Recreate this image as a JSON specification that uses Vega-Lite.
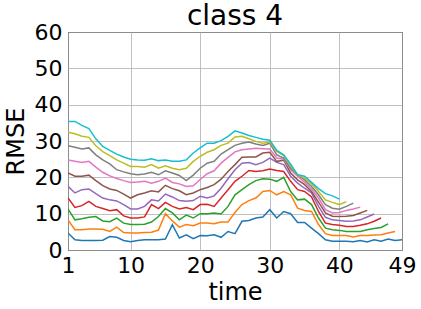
{
  "$schema": "https://vega.github.io/schema/vega-lite/v6.json",
  "width": 334,
  "height": 218,
  "autosize": "none",
  "padding": {"left": 68, "top": 32, "right": 19, "bottom": 59},
  "title": {"text": "class 4", "fontSize": 28, "font": "DejaVu Sans", "fontWeight": "normal", "color": "black", "anchor": "middle", "frame": "group", "baseline": "alphabetic", "offset": -32},
  "config": {
    "view": {"stroke": "black", "strokeWidth": 1},
    "axis": {"labelFont": "DejaVu Sans", "titleFont": "DejaVu Sans", "labelFontSize": 22, "titleFontSize": 24, "labelColor": "black", "titleColor": "black", "titleFontWeight": "normal", "domain": false, "ticks": false, "gridColor": "#b0b0b0", "gridWidth": 0.8, "gridOpacity": 1}
  },
  "datasets": {
    "d": [
{"s":"s0","t":1,"v":4.7},{"s":"s0","t":2,"v":2.8},{"s":"s0","t":3,"v":2.6},{"s":"s0","t":4,"v":2.6},{"s":"s0","t":5,"v":2.6},{"s":"s0","t":6,"v":2.7},{"s":"s0","t":7,"v":3.7},{"s":"s0","t":8,"v":3.5},{"s":"s0","t":9,"v":2.6},{"s":"s0","t":10,"v":2.3},
{"s":"s0","t":11,"v":2.6},{"s":"s0","t":12,"v":2.8},{"s":"s0","t":13,"v":2.8},{"s":"s0","t":14,"v":2.8},{"s":"s0","t":15,"v":3.0},{"s":"s0","t":16,"v":7.0},{"s":"s0","t":17,"v":3.3},{"s":"s0","t":18,"v":4.2},{"s":"s0","t":19,"v":3.1},{"s":"s0","t":20,"v":4.0},
{"s":"s0","t":21,"v":3.9},{"s":"s0","t":22,"v":4.2},{"s":"s0","t":23,"v":3.5},{"s":"s0","t":24,"v":5.1},{"s":"s0","t":25,"v":4.5},{"s":"s0","t":26,"v":7.9},{"s":"s0","t":27,"v":8.1},{"s":"s0","t":28,"v":8.8},{"s":"s0","t":29,"v":9.1},{"s":"s0","t":30,"v":11.1},
{"s":"s0","t":31,"v":8.8},{"s":"s0","t":32,"v":10.6},{"s":"s0","t":33,"v":10.0},{"s":"s0","t":34,"v":7.6},{"s":"s0","t":35,"v":7.6},{"s":"s0","t":36,"v":6.0},{"s":"s0","t":37,"v":4.5},{"s":"s0","t":38,"v":2.8},{"s":"s0","t":39,"v":2.4},{"s":"s0","t":40,"v":2.4},
{"s":"s0","t":41,"v":2.4},{"s":"s0","t":42,"v":2.3},{"s":"s0","t":43,"v":2.6},{"s":"s0","t":44,"v":2.2},{"s":"s0","t":45,"v":2.8},{"s":"s0","t":46,"v":2.4},{"s":"s0","t":47,"v":3.0},{"s":"s0","t":48,"v":2.6},{"s":"s0","t":49,"v":2.8},

{"s":"s1","t":1,"v":8.3},{"s":"s1","t":2,"v":5.6},{"s":"s1","t":3,"v":5.6},{"s":"s1","t":4,"v":5.8},{"s":"s1","t":5,"v":5.8},{"s":"s1","t":6,"v":5.7},{"s":"s1","t":7,"v":5.1},{"s":"s1","t":8,"v":6.3},{"s":"s1","t":9,"v":4.8},{"s":"s1","t":10,"v":4.7},
{"s":"s1","t":11,"v":4.7},{"s":"s1","t":12,"v":4.8},{"s":"s1","t":13,"v":4.9},{"s":"s1","t":14,"v":5.5},{"s":"s1","t":15,"v":10.0},{"s":"s1","t":16,"v":8.0},{"s":"s1","t":17,"v":6.3},{"s":"s1","t":18,"v":7.0},{"s":"s1","t":19,"v":6.7},{"s":"s1","t":20,"v":7.4},
{"s":"s1","t":21,"v":7.4},{"s":"s1","t":22,"v":7.2},{"s":"s1","t":23,"v":7.7},{"s":"s1","t":24,"v":7.7},{"s":"s1","t":25,"v":10.3},{"s":"s1","t":26,"v":12.5},{"s":"s1","t":27,"v":13.6},{"s":"s1","t":28,"v":14.3},{"s":"s1","t":29,"v":16.1},{"s":"s1","t":30,"v":16.4},
{"s":"s1","t":31,"v":15.2},{"s":"s1","t":32,"v":16.1},{"s":"s1","t":33,"v":15.2},{"s":"s1","t":34,"v":11.5},{"s":"s1","t":35,"v":10.9},{"s":"s1","t":36,"v":10.6},{"s":"s1","t":37,"v":7.0},{"s":"s1","t":38,"v":4.5},{"s":"s1","t":39,"v":4.0},{"s":"s1","t":40,"v":4.0},
{"s":"s1","t":41,"v":4.0},{"s":"s1","t":42,"v":3.6},{"s":"s1","t":43,"v":4.0},{"s":"s1","t":44,"v":4.0},{"s":"s1","t":45,"v":4.1},{"s":"s1","t":46,"v":4.2},{"s":"s1","t":47,"v":4.7},{"s":"s1","t":48,"v":5.1},

{"s":"s2","t":1,"v":11.3},{"s":"s2","t":2,"v":8.3},{"s":"s2","t":3,"v":8.6},{"s":"s2","t":4,"v":9.0},{"s":"s2","t":5,"v":9.2},{"s":"s2","t":6,"v":8.0},{"s":"s2","t":7,"v":7.8},{"s":"s2","t":8,"v":8.8},{"s":"s2","t":9,"v":7.4},{"s":"s2","t":10,"v":7.0},
{"s":"s2","t":11,"v":7.0},{"s":"s2","t":12,"v":7.1},{"s":"s2","t":13,"v":7.7},{"s":"s2","t":14,"v":9.2},{"s":"s2","t":15,"v":11.4},{"s":"s2","t":16,"v":10.2},{"s":"s2","t":17,"v":8.3},{"s":"s2","t":18,"v":9.6},{"s":"s2","t":19,"v":8.8},{"s":"s2","t":20,"v":10.0},
{"s":"s2","t":21,"v":10.0},{"s":"s2","t":22,"v":10.2},{"s":"s2","t":23,"v":9.9},{"s":"s2","t":24,"v":12.0},{"s":"s2","t":25,"v":15.2},{"s":"s2","t":26,"v":16.6},{"s":"s2","t":27,"v":18.0},{"s":"s2","t":28,"v":19.1},{"s":"s2","t":29,"v":19.6},{"s":"s2","t":30,"v":19.5},
{"s":"s2","t":31,"v":18.9},{"s":"s2","t":32,"v":20.0},{"s":"s2","t":33,"v":16.1},{"s":"s2","t":34,"v":13.8},{"s":"s2","t":35,"v":14.0},{"s":"s2","t":36,"v":12.5},{"s":"s2","t":37,"v":8.8},{"s":"s2","t":38,"v":6.0},{"s":"s2","t":39,"v":5.6},{"s":"s2","t":40,"v":5.4},
{"s":"s2","t":41,"v":5.1},{"s":"s2","t":42,"v":5.1},{"s":"s2","t":43,"v":5.1},{"s":"s2","t":44,"v":5.6},{"s":"s2","t":45,"v":5.9},{"s":"s2","t":46,"v":6.2},{"s":"s2","t":47,"v":7.2},

{"s":"s3","t":1,"v":14.3},{"s":"s3","t":2,"v":11.7},{"s":"s3","t":3,"v":12.2},{"s":"s3","t":4,"v":13.4},{"s":"s3","t":5,"v":12.0},{"s":"s3","t":6,"v":11.4},{"s":"s3","t":7,"v":10.8},{"s":"s3","t":8,"v":11.1},{"s":"s3","t":9,"v":9.4},{"s":"s3","t":10,"v":8.8},
{"s":"s3","t":11,"v":8.8},{"s":"s3","t":12,"v":9.1},{"s":"s3","t":13,"v":12.5},{"s":"s3","t":14,"v":11.4},{"s":"s3","t":15,"v":13.1},{"s":"s3","t":16,"v":12.0},{"s":"s3","t":17,"v":11.3},{"s":"s3","t":18,"v":11.7},{"s":"s3","t":19,"v":11.1},{"s":"s3","t":20,"v":12.5},
{"s":"s3","t":21,"v":12.6},{"s":"s3","t":22,"v":12.0},{"s":"s3","t":23,"v":14.3},{"s":"s3","t":24,"v":16.6},{"s":"s3","t":25,"v":18.9},{"s":"s3","t":26,"v":20.3},{"s":"s3","t":27,"v":21.9},{"s":"s3","t":28,"v":21.6},{"s":"s3","t":29,"v":21.8},{"s":"s3","t":30,"v":22.3},
{"s":"s3","t":31,"v":21.9},{"s":"s3","t":32,"v":21.6},{"s":"s3","t":33,"v":18.9},{"s":"s3","t":34,"v":16.6},{"s":"s3","t":35,"v":16.1},{"s":"s3","t":36,"v":14.6},{"s":"s3","t":37,"v":10.6},{"s":"s3","t":38,"v":7.4},{"s":"s3","t":39,"v":7.0},{"s":"s3","t":40,"v":6.8},
{"s":"s3","t":41,"v":6.5},{"s":"s3","t":42,"v":6.5},{"s":"s3","t":43,"v":6.8},{"s":"s3","t":44,"v":7.2},{"s":"s3","t":45,"v":7.9},{"s":"s3","t":46,"v":8.8},

{"s":"s4","t":1,"v":17.5},{"s":"s4","t":2,"v":15.7},{"s":"s4","t":3,"v":16.6},{"s":"s4","t":4,"v":16.8},{"s":"s4","t":5,"v":15.5},{"s":"s4","t":6,"v":14.3},{"s":"s4","t":7,"v":13.8},{"s":"s4","t":8,"v":13.5},{"s":"s4","t":9,"v":12.5},{"s":"s4","t":10,"v":11.3},
{"s":"s4","t":11,"v":11.3},{"s":"s4","t":12,"v":12.0},{"s":"s4","t":13,"v":13.8},{"s":"s4","t":14,"v":13.5},{"s":"s4","t":15,"v":15.4},{"s":"s4","t":16,"v":14.6},{"s":"s4","t":17,"v":13.6},{"s":"s4","t":18,"v":13.4},{"s":"s4","t":19,"v":13.6},{"s":"s4","t":20,"v":14.8},
{"s":"s4","t":21,"v":14.3},{"s":"s4","t":22,"v":14.9},{"s":"s4","t":23,"v":17.0},{"s":"s4","t":24,"v":19.6},{"s":"s4","t":25,"v":22.1},{"s":"s4","t":26,"v":23.9},{"s":"s4","t":27,"v":24.1},{"s":"s4","t":28,"v":23.5},{"s":"s4","t":29,"v":24.1},{"s":"s4","t":30,"v":25.3},
{"s":"s4","t":31,"v":24.1},{"s":"s4","t":32,"v":23.5},{"s":"s4","t":33,"v":20.3},{"s":"s4","t":34,"v":18.4},{"s":"s4","t":35,"v":17.0},{"s":"s4","t":36,"v":15.7},{"s":"s4","t":37,"v":12.0},{"s":"s4","t":38,"v":9.0},{"s":"s4","t":39,"v":8.3},{"s":"s4","t":40,"v":8.1},
{"s":"s4","t":41,"v":7.9},{"s":"s4","t":42,"v":8.0},{"s":"s4","t":43,"v":8.3},{"s":"s4","t":44,"v":9.1},{"s":"s4","t":45,"v":9.9},

{"s":"s5","t":1,"v":21.2},{"s":"s5","t":2,"v":20.3},{"s":"s5","t":3,"v":20.3},{"s":"s5","t":4,"v":20.6},{"s":"s5","t":5,"v":19.1},{"s":"s5","t":6,"v":17.7},{"s":"s5","t":7,"v":16.8},{"s":"s5","t":8,"v":16.4},{"s":"s5","t":9,"v":15.4},{"s":"s5","t":10,"v":14.3},
{"s":"s5","t":11,"v":15.2},{"s":"s5","t":12,"v":15.7},{"s":"s5","t":13,"v":16.3},{"s":"s5","t":14,"v":16.0},{"s":"s5","t":15,"v":17.8},{"s":"s5","t":16,"v":16.9},{"s":"s5","t":17,"v":16.3},{"s":"s5","t":18,"v":15.2},{"s":"s5","t":19,"v":15.7},{"s":"s5","t":20,"v":16.6},
{"s":"s5","t":21,"v":17.2},{"s":"s5","t":22,"v":18.0},{"s":"s5","t":23,"v":19.5},{"s":"s5","t":24,"v":21.6},{"s":"s5","t":25,"v":23.5},{"s":"s5","t":26,"v":25.5},{"s":"s5","t":27,"v":25.6},{"s":"s5","t":28,"v":25.6},{"s":"s5","t":29,"v":26.7},{"s":"s5","t":30,"v":26.9},
{"s":"s5","t":31,"v":24.4},{"s":"s5","t":32,"v":24.7},{"s":"s5","t":33,"v":21.2},{"s":"s5","t":34,"v":19.3},{"s":"s5","t":35,"v":18.0},{"s":"s5","t":36,"v":16.1},{"s":"s5","t":37,"v":13.2},{"s":"s5","t":38,"v":10.2},{"s":"s5","t":39,"v":9.3},{"s":"s5","t":40,"v":9.2},
{"s":"s5","t":41,"v":9.3},{"s":"s5","t":42,"v":9.5},{"s":"s5","t":43,"v":10.2},{"s":"s5","t":44,"v":10.9},

{"s":"s6","t":1,"v":24.8},{"s":"s6","t":2,"v":24.4},{"s":"s6","t":3,"v":24.1},{"s":"s6","t":4,"v":24.4},{"s":"s6","t":5,"v":22.8},{"s":"s6","t":6,"v":21.4},{"s":"s6","t":7,"v":20.4},{"s":"s6","t":8,"v":19.7},{"s":"s6","t":9,"v":19.1},{"s":"s6","t":10,"v":18.6},
{"s":"s6","t":11,"v":18.7},{"s":"s6","t":12,"v":18.9},{"s":"s6","t":13,"v":18.4},{"s":"s6","t":14,"v":18.9},{"s":"s6","t":15,"v":19.8},{"s":"s6","t":16,"v":18.6},{"s":"s6","t":17,"v":18.2},{"s":"s6","t":18,"v":17.5},{"s":"s6","t":19,"v":17.7},{"s":"s6","t":20,"v":19.4},
{"s":"s6","t":21,"v":21.0},{"s":"s6","t":22,"v":21.8},{"s":"s6","t":23,"v":23.9},{"s":"s6","t":24,"v":25.5},{"s":"s6","t":25,"v":27.0},{"s":"s6","t":26,"v":27.6},{"s":"s6","t":27,"v":27.8},{"s":"s6","t":28,"v":28.0},{"s":"s6","t":29,"v":27.9},{"s":"s6","t":30,"v":27.8},
{"s":"s6","t":31,"v":25.3},{"s":"s6","t":32,"v":25.0},{"s":"s6","t":33,"v":22.1},{"s":"s6","t":34,"v":20.3},{"s":"s6","t":35,"v":18.6},{"s":"s6","t":36,"v":16.8},{"s":"s6","t":37,"v":14.3},{"s":"s6","t":38,"v":11.1},{"s":"s6","t":39,"v":10.2},{"s":"s6","t":40,"v":10.3},
{"s":"s6","t":41,"v":10.9},{"s":"s6","t":42,"v":11.3},{"s":"s6","t":43,"v":11.8},

{"s":"s7","t":1,"v":28.7},{"s":"s7","t":2,"v":28.3},{"s":"s7","t":3,"v":27.8},{"s":"s7","t":4,"v":28.1},{"s":"s7","t":5,"v":26.2},{"s":"s7","t":6,"v":24.8},{"s":"s7","t":7,"v":23.7},{"s":"s7","t":8,"v":22.1},{"s":"s7","t":9,"v":21.5},{"s":"s7","t":10,"v":21.0},
{"s":"s7","t":11,"v":20.7},{"s":"s7","t":12,"v":20.9},{"s":"s7","t":13,"v":21.4},{"s":"s7","t":14,"v":20.7},{"s":"s7","t":15,"v":21.8},{"s":"s7","t":16,"v":21.2},{"s":"s7","t":17,"v":20.5},{"s":"s7","t":18,"v":19.1},{"s":"s7","t":19,"v":20.6},{"s":"s7","t":20,"v":22.5},
{"s":"s7","t":21,"v":23.9},{"s":"s7","t":22,"v":24.4},{"s":"s7","t":23,"v":26.4},{"s":"s7","t":24,"v":27.6},{"s":"s7","t":25,"v":28.8},{"s":"s7","t":26,"v":29.4},{"s":"s7","t":27,"v":29.7},{"s":"s7","t":28,"v":29.2},{"s":"s7","t":29,"v":28.8},{"s":"s7","t":30,"v":29.4},
{"s":"s7","t":31,"v":26.2},{"s":"s7","t":32,"v":25.3},{"s":"s7","t":33,"v":22.5},{"s":"s7","t":34,"v":20.7},{"s":"s7","t":35,"v":19.3},{"s":"s7","t":36,"v":17.5},{"s":"s7","t":37,"v":15.2},{"s":"s7","t":38,"v":12.5},{"s":"s7","t":39,"v":11.5},{"s":"s7","t":40,"v":11.2},
{"s":"s7","t":41,"v":12.0},{"s":"s7","t":42,"v":12.9},

{"s":"s8","t":1,"v":32.4},{"s":"s8","t":2,"v":32.0},{"s":"s8","t":3,"v":31.3},{"s":"s8","t":4,"v":31.0},{"s":"s8","t":5,"v":28.7},{"s":"s8","t":6,"v":27.1},{"s":"s8","t":7,"v":26.0},{"s":"s8","t":8,"v":24.8},{"s":"s8","t":9,"v":23.9},{"s":"s8","t":10,"v":23.0},
{"s":"s8","t":11,"v":23.0},{"s":"s8","t":12,"v":22.8},{"s":"s8","t":13,"v":23.5},{"s":"s8","t":14,"v":22.5},{"s":"s8","t":15,"v":23.2},{"s":"s8","t":16,"v":22.5},{"s":"s8","t":17,"v":22.1},{"s":"s8","t":18,"v":22.5},{"s":"s8","t":19,"v":24.4},{"s":"s8","t":20,"v":25.8},
{"s":"s8","t":21,"v":26.9},{"s":"s8","t":22,"v":27.6},{"s":"s8","t":23,"v":28.8},{"s":"s8","t":24,"v":29.4},{"s":"s8","t":25,"v":31.1},{"s":"s8","t":26,"v":31.3},{"s":"s8","t":27,"v":30.6},{"s":"s8","t":28,"v":29.9},{"s":"s8","t":29,"v":29.4},{"s":"s8","t":30,"v":29.7},
{"s":"s8","t":31,"v":27.1},{"s":"s8","t":32,"v":26.0},{"s":"s8","t":33,"v":23.2},{"s":"s8","t":34,"v":20.7},{"s":"s8","t":35,"v":19.8},{"s":"s8","t":36,"v":18.2},{"s":"s8","t":37,"v":16.1},{"s":"s8","t":38,"v":13.8},{"s":"s8","t":39,"v":13.1},{"s":"s8","t":40,"v":12.5},
{"s":"s8","t":41,"v":13.3},

{"s":"s9","t":1,"v":35.4},{"s":"s9","t":2,"v":35.4},{"s":"s9","t":3,"v":34.3},{"s":"s9","t":4,"v":33.4},{"s":"s9","t":5,"v":30.6},{"s":"s9","t":6,"v":28.5},{"s":"s9","t":7,"v":27.4},{"s":"s9","t":8,"v":26.4},{"s":"s9","t":9,"v":25.6},{"s":"s9","t":10,"v":25.0},
{"s":"s9","t":11,"v":24.8},{"s":"s9","t":12,"v":24.7},{"s":"s9","t":13,"v":25.1},{"s":"s9","t":14,"v":24.6},{"s":"s9","t":15,"v":24.8},{"s":"s9","t":16,"v":24.4},{"s":"s9","t":17,"v":24.4},{"s":"s9","t":18,"v":24.8},{"s":"s9","t":19,"v":26.7},{"s":"s9","t":20,"v":28.1},
{"s":"s9","t":21,"v":29.4},{"s":"s9","t":22,"v":29.4},{"s":"s9","t":23,"v":30.1},{"s":"s9","t":24,"v":31.3},{"s":"s9","t":25,"v":32.8},{"s":"s9","t":26,"v":32.2},{"s":"s9","t":27,"v":31.5},{"s":"s9","t":28,"v":31.0},{"s":"s9","t":29,"v":30.5},{"s":"s9","t":30,"v":30.2},
{"s":"s9","t":31,"v":27.4},{"s":"s9","t":32,"v":26.2},{"s":"s9","t":33,"v":23.6},{"s":"s9","t":34,"v":20.7},{"s":"s9","t":35,"v":20.3},{"s":"s9","t":36,"v":18.6},{"s":"s9","t":37,"v":16.9},{"s":"s9","t":38,"v":15.5},{"s":"s9","t":39,"v":14.9},{"s":"s9","t":40,"v":14.0}
    ]
  },
  "data": {"name": "d"},
  "mark": {"type": "line", "strokeWidth": 1.5, "clip": true},
  "encoding": {
    "x": {"field": "t", "type": "quantitative", "title": "time",
          "scale": {"domain": [1, 49], "nice": false, "zero": false},
          "axis": {"values": [1, 10, 20, 30, 40, 49], "labelPadding": 5, "labelFlush": false, "titlePadding": 4}},
    "y": {"field": "v", "type": "quantitative", "title": "RMSE",
          "scale": {"domain": [0, 60], "nice": false},
          "axis": {"values": [0, 10, 20, 30, 40, 50, 60], "labelPadding": 6, "titlePadding": 6}},
    "color": {"field": "s", "type": "nominal", "legend": null,
              "scale": {"domain": ["s0","s1","s2","s3","s4","s5","s6","s7","s8","s9"],
                        "range": ["#1f77b4","#ff7f0e","#2ca02c","#d62728","#9467bd","#8c564b","#e377c2","#7f7f7f","#bcbd22","#17becf"]}},
    "order": {"field": "t", "type": "quantitative"}
  }
}
